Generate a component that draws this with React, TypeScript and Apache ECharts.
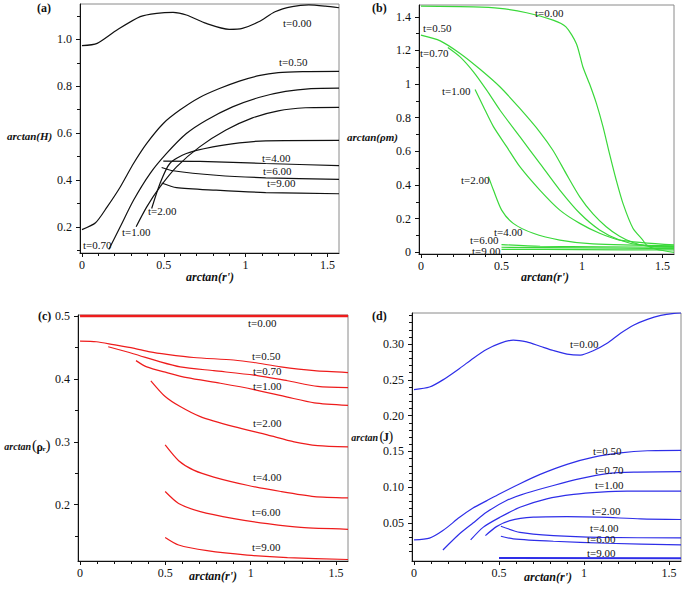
import React, { useEffect, useRef } from "react";
import * as echarts from "echarts";

// ---------- data ----------
const T_LABELS = ["t=0.00", "t=0.50", "t=0.70", "t=1.00", "t=2.00", "t=4.00", "t=6.00", "t=9.00"];

// Panel (a): arctan(H)
const A_T0 = [[0,0.973],[0.093,0.983],[0.214,1.04],[0.356,1.097],[0.457,1.111],[0.557,1.115],[0.638,1.104],[0.76,1.068],[0.9,1.043],[0.98,1.047],[1.08,1.075],[1.18,1.118],[1.285,1.14],[1.386,1.147],[1.487,1.142],[1.571,1.135]];
const A_T05 = [[0,0.188],[0.083,0.217],[0.154,0.285],[0.234,0.37],[0.315,0.47],[0.396,0.556],[0.497,0.641],[0.598,0.698],[0.719,0.752],[0.84,0.79],[0.962,0.822],[1.08,0.845],[1.2,0.858],[1.35,0.862],[1.571,0.863]];
const A_T07 = [[0.164,0.103],[0.234,0.2],[0.315,0.313],[0.416,0.427],[0.517,0.513],[0.638,0.598],[0.76,0.655],[0.92,0.712],[1.08,0.752],[1.244,0.778],[1.4,0.79],[1.571,0.792]];
const A_T1 = [[0.331,0.2],[0.396,0.285],[0.477,0.37],[0.578,0.456],[0.719,0.541],[0.88,0.613],[1.042,0.665],[1.2,0.695],[1.366,0.708],[1.571,0.71]];
const A_T2 = [[0.426,0.278],[0.477,0.385],[0.537,0.47],[0.638,0.513],[0.8,0.541],[0.962,0.558],[1.123,0.567],[1.571,0.569]];
const A_T4 = [[0.497,0.48],[0.72,0.479],[1.123,0.47],[1.571,0.461]];
const A_T6 = [[0.487,0.453],[0.557,0.439],[0.82,0.42],[1.123,0.409],[1.571,0.402]];
const A_T9 = [[0.487,0.387],[0.578,0.367],[0.82,0.356],[1.123,0.346],[1.571,0.341]];

// Panel (b): arctan(rho_m)
const B_T0 = [[0,1.463],[0.326,1.459],[0.49,1.45],[0.656,1.424],[0.82,1.38],[0.9,1.34],[0.965,1.24],[1.006,1.1],[1.047,1.0],[1.089,0.885],[1.13,0.747],[1.17,0.588],[1.212,0.43],[1.254,0.291],[1.316,0.143],[1.377,0.073],[1.4,0.044],[1.46,0.018],[1.571,0.0]];
const B_T05 = [[0,1.291],[0.12,1.257],[0.243,1.182],[0.367,1.088],[0.49,0.984],[0.614,0.855],[0.738,0.715],[0.82,0.605],[0.903,0.465],[0.986,0.33],[1.068,0.228],[1.15,0.152],[1.233,0.095],[1.315,0.058],[1.398,0.038],[1.571,0.03]];
const B_T07 = [[0.167,1.218],[0.243,1.162],[0.326,1.073],[0.408,0.964],[0.49,0.846],[0.614,0.687],[0.738,0.529],[0.862,0.37],[0.986,0.232],[1.109,0.133],[1.233,0.073],[1.357,0.044],[1.571,0.034]];
const B_T1 = [[0.336,0.968],[0.388,0.865],[0.45,0.747],[0.532,0.628],[0.614,0.509],[0.738,0.37],[0.862,0.251],[0.986,0.172],[1.109,0.113],[1.233,0.073],[1.571,0.044]];
const B_T2 = [[0.419,0.45],[0.45,0.37],[0.501,0.251],[0.573,0.172],[0.697,0.113],[0.862,0.073],[1.068,0.05],[1.571,0.038]];
const B_T4 = [[0.5,0.046],[0.74,0.036],[1.571,0.03]];
const B_T6 = [[0.5,0.03],[1.0,0.026],[1.571,0.022]];
const B_T9 = [[0.5,0.018],[1.0,0.016],[1.571,0.014]];

// Panel (c): arctan(rho_r)
const C_T0 = [[0,0.5],[1.571,0.5]];
const C_T05 = [[0,0.46],[0.096,0.459],[0.195,0.4545],[0.312,0.449],[0.41,0.443],[0.509,0.439],[0.666,0.434],[0.9,0.43],[1.02,0.426],[1.177,0.419],[1.373,0.413],[1.571,0.41]];
const C_T07 = [[0.165,0.451],[0.312,0.44],[0.47,0.427],[0.587,0.419],[0.784,0.413],[1.02,0.406],[1.216,0.397],[1.393,0.388],[1.571,0.386]];
const C_T1 = [[0.328,0.429],[0.391,0.419],[0.509,0.41],[0.627,0.402],[0.823,0.393],[1.02,0.383],[1.216,0.371],[1.373,0.362],[1.571,0.358]];
const C_T2 = [[0.415,0.397],[0.499,0.372],[0.587,0.356],[0.705,0.34],[0.902,0.324],[1.098,0.311],[1.255,0.3],[1.393,0.294],[1.571,0.292]];
const C_T4 = [[0.499,0.295],[0.578,0.27],[0.666,0.255],[0.784,0.244],[0.98,0.231],[1.177,0.221],[1.373,0.213],[1.571,0.211]];
const C_T6 = [[0.499,0.221],[0.578,0.202],[0.705,0.189],[0.902,0.178],[1.098,0.17],[1.295,0.164],[1.571,0.161]];
const C_T9 = [[0.499,0.148],[0.578,0.136],[0.745,0.127],[0.98,0.12],[1.216,0.116],[1.571,0.113]];

// Panel (d): arctan(J)
const D_T0 = [[0,0.2365],[0.091,0.24],[0.17,0.25],[0.268,0.266],[0.347,0.28],[0.426,0.2925],[0.505,0.301],[0.584,0.3056],[0.663,0.303],[0.742,0.297],[0.82,0.291],[0.9,0.286],[0.978,0.2846],[1.057,0.291],[1.136,0.301],[1.215,0.315],[1.294,0.3266],[1.373,0.3345],[1.452,0.34],[1.53,0.343],[1.571,0.3435]];
const D_T05 = [[0,0.0264],[0.091,0.029],[0.17,0.0395],[0.268,0.058],[0.347,0.071],[0.426,0.081],[0.505,0.091],[0.623,0.105],[0.742,0.118],[0.9,0.132],[1.057,0.142],[1.215,0.148],[1.373,0.151],[1.571,0.1515]];
const D_T07 = [[0.17,0.0124],[0.268,0.035],[0.347,0.05],[0.426,0.065],[0.544,0.0815],[0.663,0.092],[0.82,0.1025],[0.978,0.112],[1.136,0.119],[1.294,0.121],[1.571,0.1217]];
const D_T1 = [[0.333,0.0264],[0.406,0.044],[0.505,0.058],[0.623,0.072],[0.781,0.0838],[0.939,0.09],[1.097,0.0932],[1.254,0.0946],[1.571,0.0946]];
const D_T2 = [[0.42,0.0325],[0.485,0.045],[0.564,0.0535],[0.702,0.0582],[0.9,0.059],[1.097,0.0582],[1.333,0.0558],[1.571,0.055]];
const D_T4 = [[0.511,0.0456],[0.623,0.037],[0.82,0.0325],[1.097,0.03],[1.571,0.0292]];
const D_T6 = [[0.511,0.0316],[0.584,0.028],[0.82,0.0246],[1.136,0.0218],[1.571,0.0194]];
const D_T9 = [[0.5,0.0012],[1.571,0.0008]];

// Tick labels
const X_TICKS = [0, 0.5, 1, 1.5];
const X_MINOR = [0.1, 0.2, 0.3, 0.4, 0.6, 0.7, 0.8, 0.9, 1.1, 1.2, 1.3, 1.4, 1.5];
const A_YTICKS = [0.2, 0.4, 0.6, 0.8, 1.0];
const A_YMINOR = [0.1, 0.3, 0.5, 0.7, 0.9, 1.1];
const B_YTICKS = [0, 0.2, 0.4, 0.6, 0.8, 1, 1.2, 1.4];
const B_YMINOR = [0.1, 0.3, 0.5, 0.7, 0.9, 1.1, 1.3];
const C_YTICKS = [0.2, 0.3, 0.4, 0.5];
const C_YMINOR = [0.15, 0.25, 0.35, 0.45];
const D_YTICKS = [0.05, 0.1, 0.15, 0.2, 0.25, 0.3];
const D_YMINOR = [0.01, 0.02, 0.03, 0.04, 0.06, 0.07, 0.08, 0.09, 0.11, 0.12, 0.13, 0.14, 0.16, 0.17, 0.18, 0.19, 0.21, 0.22, 0.23, 0.24, 0.26, 0.27, 0.28, 0.29, 0.31, 0.32, 0.33, 0.34];

// ---------- layout / style ----------
const FONT = '"Liberation Serif","Times New Roman",serif';
const XMIN = -0.012;
const XMAX = 1.5708;

const PANELS = [
  { grid: { left: 80, top: 4, width: 259, height: 249 }, ymin: 0.088, ymax: 1.151, ticks: A_YTICKS, minor: A_YMINOR, fmt: (v: number) => v.toFixed(1), color: "#111111", series: [A_T0, A_T05, A_T07, A_T1, A_T2, A_T4, A_T6, A_T9] },
  { grid: { left: 419, top: 5, width: 255, height: 249 }, ymin: -0.01, ymax: 1.47, ticks: B_YTICKS, minor: B_YMINOR, fmt: (v: number) => String(v), color: "#3ad83a", series: [B_T0, B_T05, B_T07, B_T1, B_T2, B_T4, B_T6, B_T9] },
  { grid: { left: 78, top: 315, width: 270, height: 246 }, ymin: 0.1106, ymax: 0.5015, ticks: C_YTICKS, minor: C_YMINOR, fmt: (v: number) => v.toFixed(1), color: "#ee1c1c", series: [C_T0, C_T05, C_T07, C_T1, C_T2, C_T4, C_T6, C_T9] },
  { grid: { left: 412, top: 313, width: 269, height: 248 }, ymin: -0.003, ymax: 0.3434, ticks: D_YTICKS, minor: D_YMINOR, fmt: (v: number) => v.toFixed(2), color: "#2e2ee8", series: [D_T0, D_T05, D_T07, D_T1, D_T2, D_T4, D_T6, D_T9] },
];

// label anchor positions (pixels, left/middle) for each panel's t labels
const LABEL_POS = [
  [[283, 23], [279, 62], [83, 245], [122, 232], [148, 211], [262, 158], [263, 171], [267, 183]],
  [[535, 13], [423, 28], [420, 53], [442, 91], [461, 180], [494, 232], [470, 240], [472, 251]],
  [[248, 323], [252, 356], [253, 371], [253, 386], [253, 423], [253, 477], [252, 512], [252, 547]],
  [[570, 344], [593, 451], [595, 470], [595, 485], [592, 511], [590, 528], [587, 539], [587, 553]],
];

const txt = (x: number, y: number, text: string, font: string, align = "left") => ({
  type: "text",
  x,
  y,
  z: 100,
  style: { text, font, fill: "#111", textAlign: align, textVerticalAlign: "middle", align, verticalAlign: "middle" },
});

export default function App() {
  const ref = useRef<HTMLDivElement>(null);
  useEffect(() => {
    if (!ref.current) return;
    const chart = echarts.init(ref.current, undefined, { renderer: "svg" });
    const grids: any[] = [];
    const xAxes: any[] = [];
    const yAxes: any[] = [];
    const series: any[] = [];
    const graphics: any[] = [];
    const labelStyle = { fontFamily: FONT, fontSize: 12, color: "#111" };

    PANELS.forEach((p, i) => {
      grids.push({ ...p.grid, show: true, borderColor: "#8a8a8a", borderWidth: 1, backgroundColor: "transparent" });
      const xBase = { gridIndex: i, type: "value", min: XMIN, max: XMAX, position: "bottom", splitLine: { show: false } };
      xAxes.push({
        ...xBase,
        axisLine: { show: true, onZero: false, lineStyle: { color: "#111", width: 1 } },
        axisTick: { show: true, length: 4, customValues: X_TICKS, lineStyle: { color: "#111" } },
        axisLabel: { ...labelStyle, customValues: X_TICKS, margin: 6, formatter: (v: number) => String(v) },
      });
      xAxes.push({
        ...xBase,
        axisLine: { show: false, onZero: false },
        axisTick: { show: true, length: 3, customValues: X_MINOR, lineStyle: { color: "#111" } },
        axisLabel: { show: false },
      });
      const yBase = { gridIndex: i, type: "value", min: p.ymin, max: p.ymax, position: "left", splitLine: { show: false } };
      yAxes.push({
        ...yBase,
        axisLine: { show: true, onZero: false, lineStyle: { color: "#111", width: 1 } },
        axisTick: { show: true, length: 4, customValues: p.ticks, lineStyle: { color: "#111" } },
        axisLabel: { ...labelStyle, customValues: p.ticks, margin: 8, formatter: p.fmt },
      });
      yAxes.push({
        ...yBase,
        axisLine: { show: false, onZero: false },
        axisTick: { show: true, length: 3, customValues: p.minor, lineStyle: { color: "#111" } },
        axisLabel: { show: false },
      });
      p.series.forEach((d, k) => {
        series.push({
          type: "line",
          name: `${"abcd"[i]}-${T_LABELS[k]}`,
          xAxisIndex: i * 2,
          yAxisIndex: i * 2,
          data: d,
          showSymbol: false,
          symbol: "none",
          smooth: 0.25,
          lineStyle: { color: p.color, width: i === 2 && k === 0 ? 2.6 : i === 3 && k === 7 ? 2 : 1.2 },
          z: 5,
        });
        const [lx, ly] = LABEL_POS[i][k];
        graphics.push(txt(lx, ly, T_LABELS[k], `11px ${FONT}`));
      });
    });

    const BI = `italic bold 11px ${FONT}`;
    const BI10 = `italic bold 10px ${FONT}`;
    const BI12 = `italic bold 12px ${FONT}`;
    // panel letters
    graphics.push(txt(37, 8, "(a)", `bold 12px ${FONT}`));
    graphics.push(txt(372, 8, "(b)", `bold 12px ${FONT}`));
    graphics.push(txt(38, 316, "(c)", `bold 12px ${FONT}`));
    graphics.push(txt(372, 316, "(d)", `bold 12px ${FONT}`));
    // y titles
    graphics.push(txt(7, 136, "arctan(H)", BI));
    graphics.push(txt(347, 137, "arctan(ρm)", BI));
    graphics.push(txt(31, 446, "arctan", BI10, "right"));
    graphics.push(txt(32, 445, "(", `15px ${FONT}`));
    graphics.push(txt(36.5, 447, "ρ", `bold 12px ${FONT}`));
    graphics.push(txt(42.5, 449, "r", `bold 7px ${FONT}`));
    graphics.push(txt(45.5, 445, ")", `15px ${FONT}`));
    graphics.push(txt(378, 437, "arctan", BI10, "right"));
    graphics.push(txt(379.5, 436, "(", `14px ${FONT}`));
    graphics.push(txt(383, 437, "J", `bold 12px ${FONT}`));
    graphics.push(txt(388.5, 436, ")", `14px ${FONT}`));
    // x titles
    graphics.push(txt(210, 277, "arctan(r')", BI12, "center"));
    graphics.push(txt(545, 277, "arctan(r')", BI12, "center"));
    graphics.push(txt(213, 576, "arctan(r')", BI12, "center"));
    graphics.push(txt(548, 577, "arctan(r')", BI12, "center"));

    chart.setOption({
      animation: false,
      backgroundColor: "#ffffff",
      grid: grids,
      xAxis: xAxes,
      yAxis: yAxes,
      series,
      graphic: graphics,
    });
    return () => chart.dispose();
  }, []);
  return <div ref={ref} style={{ position: "absolute", left: 0, top: 0, width: 685, height: 591 }} />;
}
